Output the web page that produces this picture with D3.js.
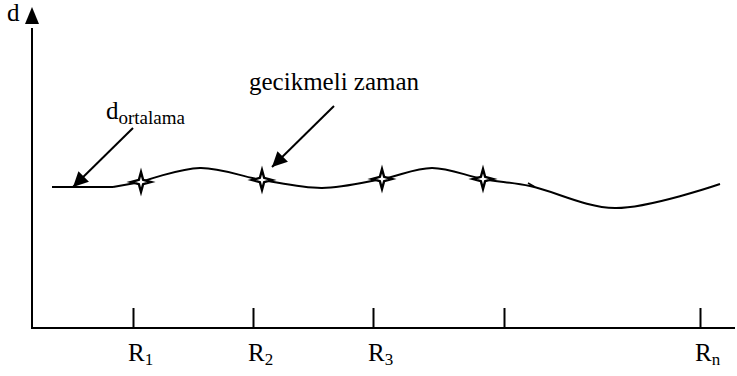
<!DOCTYPE html>
<html>
<head>
<meta charset="utf-8">
<script src="https://cdn.jsdelivr.net/npm/d3@7"></script>
<style>
  html, body { margin: 0; padding: 0; background: #fff; }
  svg { display: block; }
  svg text { font-family: "Times New Roman", "Liberation Serif", Tinos, "DejaVu Serif", serif; }
</style>
</head>
<body>
<svg id="chart" width="737" height="376"></svg>
<script>
// Horizontal position along the route and delay value d (chart units)
const tickPositions = [101, 221, 341, 472, 668];
const tickNames     = ["R", "R", "R", "", "R"];
const tickSubs      = ["1", "2", "3", "", "n"];

// Average delay: flat segment
const avgX = [20, 81];
const avgY = [141, 141];

// Delayed time curve
const delayX = [81, 109, 168, 230, 290, 350, 400, 451, 498, 583, 688];
const delayY = [141, 146, 160, 148, 140, 149, 160, 149, 142, 120, 144];

// Points marked with a star on the curve
const starX = [109, 230, 350, 451];
const starY = [146, 148, 149, 149];

const svg = d3.select("#chart");
const x = d3.scaleLinear().domain([0, 703]).range([32, 735]);
const y = d3.scaleLinear().domain([0, 308]).range([328, 20]);

// Axes
const xAxis = d3.axisTop(x).tickValues(tickPositions).tickSize(20).tickFormat("");
const gx = svg.append("g").attr("transform", `translate(0,${y(0)})`).call(xAxis);
gx.select(".domain").attr("d", `M${x(0)},0H${x(703)}`).attr("stroke", "#000").attr("stroke-width", 2);
gx.selectAll(".tick line").attr("stroke", "#000").attr("stroke-width", 2);

svg.append("line")
  .attr("x1", x(0)).attr("x2", x(0))
  .attr("y1", y(0) + 1).attr("y2", y(300))
  .attr("stroke", "#000").attr("stroke-width", 2);
// y-axis arrow head
svg.append("path")
  .attr("d", `M${x(0)},7 L${x(0) - 7},24 L${x(0) + 7},24 Z`)
  .attr("fill", "#000");

svg.append("text").attr("x", 7).attr("y", 21).attr("font-size", 25).attr("fill", "#000").text("d");

// Tick labels with subscripts
const labels = svg.append("g").attr("fill", "#000");
tickPositions.forEach((p, i) => {
  if (!tickNames[i]) return;
  const t = labels.append("text")
    .attr("x", x(p) - 5).attr("y", 361)
    .attr("font-size", 25);
  t.append("tspan").text(tickNames[i]);
  t.append("tspan").attr("font-size", 17).attr("dy", 4).text(tickSubs[i]);
});

// Curves
const line = d3.line().x(d => x(d[0])).y(d => y(d[1]));
svg.append("path")
  .datum(d3.zip(avgX, avgY))
  .attr("d", line)
  .attr("fill", "none").attr("stroke", "#000").attr("stroke-width", 2);

const pts = d3.zip(delayX, delayY);
svg.append("path")
  .datum(pts.slice(0, 2))
  .attr("d", line)
  .attr("fill", "none").attr("stroke", "#000").attr("stroke-width", 2);
svg.append("path")
  .datum(pts.slice(1))
  .attr("d", line.curve(d3.curveCatmullRom.alpha(0.5)))
  .attr("fill", "none").attr("stroke", "#000").attr("stroke-width", 2);

// small direction barb on the curve
svg.append("path")
  .attr("d", `M${x(496)},${y(145)} L${x(503)},${y(141)}`)
  .attr("stroke", "#000").attr("stroke-width", 1.5);

// Four-pointed stars
const star = d3.lineRadial()
  .angle((d, i) => i * Math.PI / 4)
  .radius((d, i) => i % 2 === 0 ? 10 : 3)
  .curve(d3.curveLinearClosed);
svg.selectAll(".star")
  .data(d3.zip(starX, starY))
  .join("path")
  .attr("class", "star")
  .attr("transform", d => `translate(${x(d[0])},${y(d[1])})`)
  .attr("d", star(d3.range(8)))
  .attr("fill", "#fff").attr("stroke", "#000").attr("stroke-width", 2.4)
  .attr("stroke-linejoin", "miter");

// Annotation arrows
svg.append("defs").append("marker")
  .attr("id", "head").attr("viewBox", "0 0 10 10")
  .attr("refX", 10).attr("refY", 5)
  .attr("markerWidth", 20).attr("markerHeight", 15)
  .attr("markerUnits", "userSpaceOnUse")
  .attr("orient", "auto")
  .append("path").attr("d", "M0,0 L10,5 L0,10 Z").attr("fill", "#000");

svg.append("line")
  .attr("x1", 133).attr("y1", 128).attr("x2", 73).attr("y2", 187)
  .attr("stroke", "#000").attr("stroke-width", 2).attr("marker-end", "url(#head)");
svg.append("line")
  .attr("x1", 334).attr("y1", 106).attr("x2", 272).attr("y2", 167)
  .attr("stroke", "#000").attr("stroke-width", 2).attr("marker-end", "url(#head)");

const avgLabel = svg.append("text").attr("x", 106).attr("y", 119).attr("font-size", 25).attr("fill", "#000");
avgLabel.append("tspan").text("d");
avgLabel.append("tspan").attr("font-size", 19).attr("dy", 5).text("ortalama");

svg.append("text").attr("x", 249).attr("y", 90).attr("font-size", 25).attr("fill", "#000").text("gecikmeli zaman");
</script>
</body>
</html>
